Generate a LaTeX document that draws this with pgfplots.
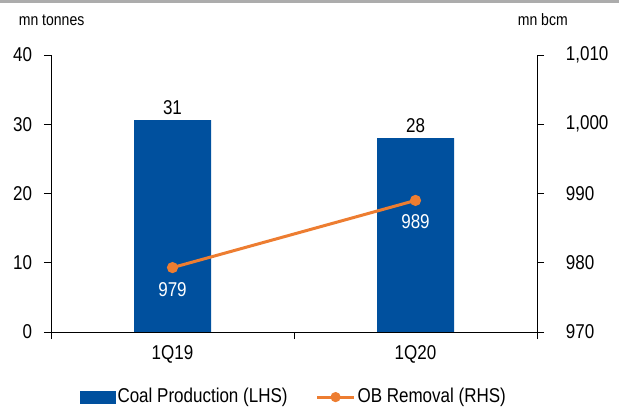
\documentclass[border=0pt]{standalone}
\usepackage{fontspec}
\setmainfont{Liberation Sans}[FakeStretch=0.85]
\usepackage{pgfplots}
\pgfplotsset{compat=1.18}
\definecolor{barblue}{RGB}{0,80,158}
\definecolor{lineorange}{RGB}{237,125,49}

\begin{document}
\fontsize{20bp}{24bp}\selectfont
\begin{tikzpicture}
\pgfplotsset{every axis/.append style={
    scale only axis, width=486bp, height=277bp,
    at={(51bp,78bp)}, anchor=south west,
    xmin=-0.5, xmax=1.5,
    tick align=outside, major tick length=7bp, minor tick length=7bp,
    /pgf/number format/assume math mode=true,
    axis line style={black, line width=0.8bp},
    tick style={black, line width=0.8bp},
    clip=false,
}}
% left axis: coal production
\begin{axis}[
  axis x line*=bottom, axis y line*=left,
  ymin=0, ymax=40, ytick={0,10,20,30,40},
  yticklabel style={xshift=-5bp},
  xtick={0,1}, xticklabels={1Q19,1Q20},
  major x tick style={draw=none},
  minor xtick={-0.5,0.5,1.5},
]
\addplot[ybar, bar width=77bp, fill=barblue, draw=none,
  nodes near coords, point meta=explicit symbolic,
  every node near coord/.append style={black, anchor=south, inner sep=2bp, yshift=3bp}]
  coordinates {(0,30.6) [31] (1,28.0) [28]};
\end{axis}
% right axis: OB removal
\begin{axis}[
  axis y line*=right, axis x line=none,
  ymin=970, ymax=1010, ytick={970,980,990,1000,1010},
  yticklabel style={xshift=15bp},
  scaled y ticks=false, /pgf/number format/1000 sep={,},
  legend columns=2,
  legend style={at={(0.5,-0.235)}, anchor=center, draw=none, fill=none,
    /tikz/every even column/.append style={column sep=26bp}},
]
\addlegendimage{legend image code/.code={\fill[barblue] (-3bp,-6bp) rectangle (32bp,6bp);}}
\addlegendentry{Coal Production (LHS)}
\addplot[lineorange, line width=3bp, mark=*, mark size=4bp,
  mark options={fill=lineorange, draw=lineorange},
  legend image code/.code={\draw[line width=3bp] (0bp,0bp) -- (37bp,0bp);
    \fill (18.5bp,0bp) circle (3.5bp);},
  nodes near coords, point meta=explicit symbolic,
  every node near coord/.append style={white, anchor=north, inner sep=2bp, yshift=-11bp}]
  coordinates {(0,979.3) [979] (1,989.0) [989]};
\addlegendentry{OB Removal (RHS)}
\end{axis}
\node[anchor=west, font=\fontsize{16.5bp}{20bp}\selectfont] at (12bp,390bp) {mn tonnes};
\node[anchor=west, font=\fontsize{16.5bp}{20bp}\selectfont] at (511bp,390bp) {mn bcm};
\fill[gray!65] (0bp,407bp) rectangle (619bp,410bp);
\pgfresetboundingbox
\path (0bp,0bp) rectangle (619bp,410bp);
\end{tikzpicture}
\end{document}
